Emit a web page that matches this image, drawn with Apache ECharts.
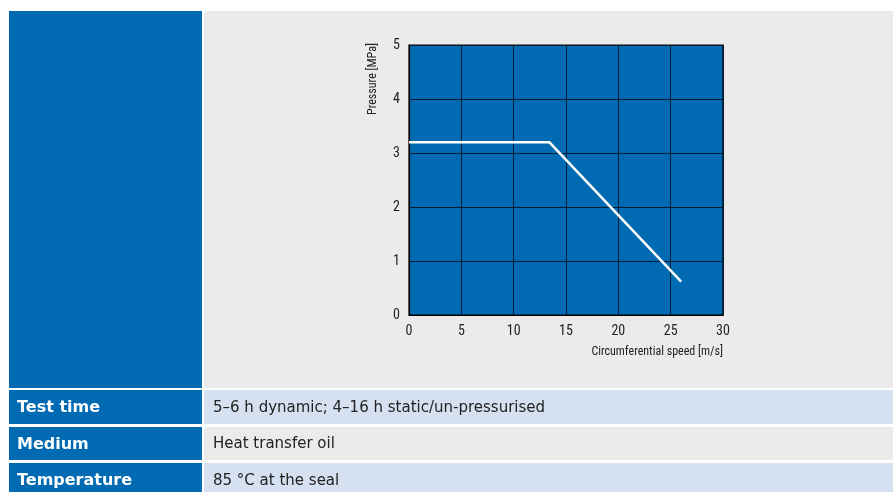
<!DOCTYPE html>
<html>
<head>
<meta charset="utf-8">
<script src="https://cdn.jsdelivr.net/npm/echarts@6/dist/echarts.min.js"></script>
<style>
html,body{margin:0;padding:0;background:#fff;}
#c{width:896px;height:492px;}
</style>
</head>
<body>
<div id="c"></div>
<script>
// Data
const speedValues = [0, 13.4, 26];        // circumferential speed [m/s]
const pressureValues = [3.2, 3.2, 0.62];  // pressure [MPa]
const xTicks = [0, 5, 10, 15, 20, 25, 30];
const yTicks = [0, 1, 2, 3, 4, 5];
const xAxisName = 'Circumferential speed [m/s]';
const yAxisName = 'Pressure [MPa]';
const tableLabels = ['Test time', 'Medium', 'Temperature'];
const tableValues = ['5–6 h dynamic; 4–16 h static/un-pressurised', 'Heat transfer oil', '85 °C at the seal'];

const BLUE = '#006bb3';
const FONT = "'Liberation Sans Narrow', 'Roboto Condensed', 'DejaVu Sans Condensed', sans-serif";
const TFONT = "'DejaVu Sans', sans-serif";

const chart = echarts.init(document.getElementById('c'));
const seriesData = speedValues.map((x, i) => [x, pressureValues[i]]);

const rowTops = [390, 427, 463];
const rowH = [34, 33, 34];
const rightColors = ['#d5e1f0', '#ebebeb', '#d5e1f0'];
const graphics = [
  {type:'rect', z:-10, shape:{x:9, y:11, width:193, height:377}, style:{fill:BLUE}},
  {type:'rect', z:-10, shape:{x:204, y:11, width:689, height:377}, style:{fill:'#ebebeb'}},
  {type:'text', x:373, y:79, rotation:Math.PI/2, style:{text:yAxisName, fill:'#222', font:'12px ' + FONT, align:'center', verticalAlign:'middle'}},
  {type:'text', x:723, y:352, style:{text:xAxisName, fill:'#222', font:'12px ' + FONT, align:'right', verticalAlign:'middle'}}
];
tableLabels.forEach((lab, i) => {
  graphics.push({type:'rect', z:-10, shape:{x:9, y:rowTops[i], width:193, height:rowH[i]}, style:{fill:BLUE}});
  graphics.push({type:'rect', z:-10, shape:{x:204, y:rowTops[i], width:689, height:rowH[i]}, style:{fill:rightColors[i]}});
  graphics.push({type:'text', x:17, y:rowTops[i] + rowH[i]/2 + 1, style:{text:lab, fill:'#fff', font:'bold 16px ' + TFONT, verticalAlign:'middle'}});
  graphics.push({type:'text', x:213, y:rowTops[i] + rowH[i]/2 + 1, style:{text:tableValues[i], fill:'#222', font:'15px ' + TFONT, verticalAlign:'middle'}});
});

chart.setOption({
  animation: false,
  backgroundColor: '#fff',
  grid: {left:409, right:173, top:45, bottom:177, show:true, backgroundColor:BLUE, borderColor:'#000', borderWidth:1.2, containLabel:false},
  xAxis: {
    type:'value', min:xTicks[0], max:xTicks[xTicks.length-1], interval:xTicks[1]-xTicks[0],
    axisLine:{show:true, lineStyle:{color:'#000', width:1.2}}, axisTick:{show:false},
    axisLabel:{color:'#222', fontSize:14, fontFamily:FONT, margin:9},
    splitLine:{show:true, lineStyle:{color:'#061c30', width:1}}
  },
  yAxis: {
    type:'value', min:yTicks[0], max:yTicks[yTicks.length-1], interval:yTicks[1]-yTicks[0],
    axisLine:{show:true, lineStyle:{color:'#000', width:1.2}}, axisTick:{show:false},
    axisLabel:{color:'#222', fontSize:14, fontFamily:FONT, margin:9},
    splitLine:{show:true, lineStyle:{color:'#061c30', width:1}}
  },
  graphic: graphics,
  series: [{
    type:'line', data:seriesData, showSymbol:false, symbol:'none',
    lineStyle:{color:'#fff', width:2.5}, z:5
  }]
});
</script>
</body>
</html>
